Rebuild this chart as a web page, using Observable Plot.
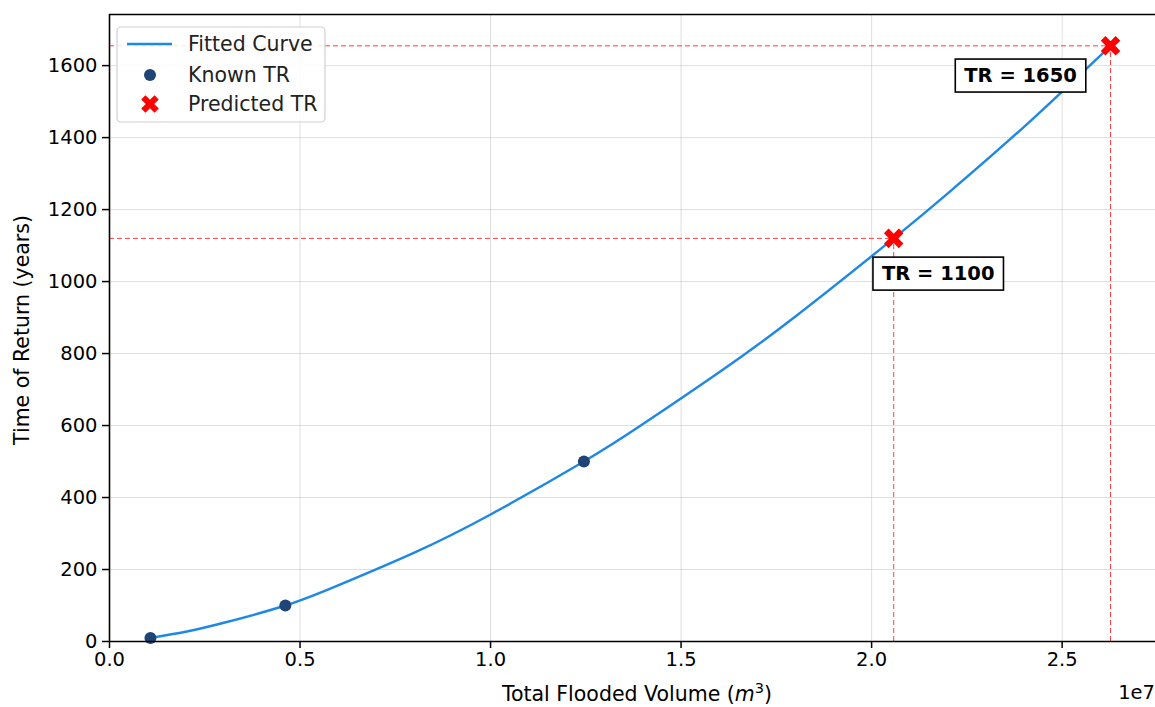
<!DOCTYPE html>
<html><head><meta charset="utf-8">
<script src="https://cdn.jsdelivr.net/npm/d3@7"></script>
<script src="https://cdn.jsdelivr.net/npm/@observablehq/plot@0.6"></script>
<style>
html,body{margin:0;padding:0;background:#fff;}
svg{font-family:"DejaVu Sans",sans-serif;}
</style>
</head><body><div id="chart"></div>
<script>
// ---- data ----
const knownVolume = [0.1075e7, 0.4615e7, 1.245e7];
const knownTR = [10, 100, 500];
const predictedVolume = [2.058e7, 2.627e7];
const predictedTR = [1120, 1655];
const predictedLabels = ["TR = 1100", "TR = 1650"];
const curveVolume = [0.1075e7, 0.2e7, 0.3e7, 0.4615e7, 0.6e7, 0.8e7, 1.0e7, 1.245e7, 1.4e7, 1.6e7, 1.8e7, 2.058e7, 2.2e7, 2.4e7, 2.627e7];
const curveTR = [10, 27, 52, 100, 156, 247, 353, 500, 604, 748, 903, 1120, 1245, 1430, 1655];
const xTicks = [0, 0.5e7, 1.0e7, 1.5e7, 2.0e7, 2.5e7];
const yTicks = [0, 200, 400, 600, 800, 1000, 1200, 1400, 1600];
const legendItems = ["Fitted Curve", "Known TR", "Predicted TR"];
const xLabelText = "Total Flooded Volume (";
const yLabelText = "Time of Return (years)";
const offsetText = "1e7";

// ---- tables ----
const curve = curveVolume.map((v, i) => ({v, tr: curveTR[i]}));
const known = knownVolume.map((v, i) => ({v, tr: knownTR[i]}));
const predicted = predictedVolume.map((v, i) => ({v, tr: predictedTR[i], label: predictedLabels[i]}));

const W = 1155, H = 707;
const xDomain = [0, 2.745e7], yDomain = [0, 1742];
const curveColor = "#1e88e5", knownColor = "#1f4476", predColor = "#ff0000";
const FS = 19.5;

// filled "X" marker (matplotlib style)
const xSymbol = {
  draw(ctx, size) {
    const r = Math.sqrt(size / Math.PI);
    const L = r * 1.05, h = r * 0.33;
    const pts = [[h,-L],[h,-h],[L,-h],[L,h],[h,h],[h,L],[-h,L],[-h,h],[-L,h],[-L,-h],[-h,-h],[-h,-L]]
      .map(([x, y]) => [(x - y) / Math.SQRT2, (x + y) / Math.SQRT2]);
    ctx.moveTo(pts[0][0], pts[0][1]);
    for (let i = 1; i < pts.length; i++) ctx.lineTo(pts[i][0], pts[i][1]);
    ctx.closePath();
  }
};

const dash = {stroke: predColor, strokeOpacity: 0.75, strokeWidth: 1, strokeDasharray: "5,3"};
const spine = {stroke: "#000", strokeWidth: 1.6};

const plot = Plot.plot({
  width: W, height: H,
  marginLeft: 109, marginRight: 0, marginTop: 14, marginBottom: 66,
  style: {fontFamily: '"DejaVu Sans", sans-serif', fontSize: FS + "px", color: "#000", background: "#fff", overflow: "visible"},
  x: {domain: xDomain},
  y: {domain: yDomain},
  marks: [
    Plot.gridX(xTicks, {stroke: "#b0b0b0", strokeOpacity: 0.4, strokeWidth: 1}),
    Plot.gridY(yTicks, {stroke: "#b0b0b0", strokeOpacity: 0.4, strokeWidth: 1}),
    Plot.ruleY(predicted, {y: "tr", x1: () => xDomain[0], x2: "v", ...dash}),
    Plot.ruleX(predicted, {x: "v", y1: () => yDomain[0], y2: "tr", ...dash}),
    Plot.line(curve, {x: "v", y: "tr", stroke: curveColor, strokeWidth: 2.4, curve: "natural"}),
    Plot.dot(known, {x: "v", y: "tr", r: 6, fill: knownColor, stroke: "none"}),
    Plot.dot(predicted, {x: "v", y: "tr", r: 10, symbol: xSymbol, fill: predColor, stroke: "none"}),
    Plot.text(predicted.filter((d, i) => i === 0), {x: "v", y: "tr", text: "label", dx: 44.5, dy: 35.5,
      fontWeight: "bold", fontSize: FS, fill: "#000"}),
    Plot.text(predicted.filter((d, i) => i === 1), {x: "v", y: "tr", text: "label", dx: -90, dy: 30,
      fontWeight: "bold", fontSize: FS, fill: "#000"}),
    Plot.axisX(xTicks, {tickSize: 7, tickPadding: 4, strokeWidth: 1.5, fontSize: FS, label: null,
      tickFormat: d => (d / 1e7).toFixed(1)}),
    Plot.axisY(yTicks, {tickSize: 7, tickPadding: 5, strokeWidth: 1.5, fontSize: FS, label: null,
      tickFormat: d => String(d)}),
    Plot.ruleY([yDomain[0]], spine),
    Plot.ruleY([yDomain[1]], spine),
    Plot.ruleX([xDomain[0]], spine)
  ]
});
document.getElementById("chart").appendChild(plot);

const svg = d3.select(plot);

// boxes behind annotation texts
svg.selectAll("text").filter(function () { return predictedLabels.includes(this.textContent); }).each(function () {
  const b = this.getBBox();
  const px = 9, py = 5;
  const parent = this.parentNode;
  const rect = document.createElementNS("http://www.w3.org/2000/svg", "rect");
  rect.setAttribute("x", b.x - px); rect.setAttribute("y", b.y - py);
  rect.setAttribute("width", b.width + 2 * px); rect.setAttribute("height", b.height + 2 * py);
  rect.setAttribute("fill", "#fff"); rect.setAttribute("stroke", "#000"); rect.setAttribute("stroke-width", 1.6);
  const tf = this.getAttribute("transform");
  if (tf) rect.setAttribute("transform", tf);
  parent.insertBefore(rect, this);
});

// x axis label with italic m and superscript 3
const xl = svg.append("text").attr("x", 637).attr("y", 701).attr("text-anchor", "middle")
  .attr("font-size", 20.5).attr("fill", "#000");
xl.append("tspan").text(xLabelText);
xl.append("tspan").attr("font-style", "italic").text("m");
xl.append("tspan").attr("font-size", 14.5).attr("dy", -8).text("3");
xl.append("tspan").attr("dy", 8).text(")");

// y axis label
svg.append("text").attr("transform", "translate(29,330) rotate(-90)").attr("text-anchor", "middle")
  .attr("font-size", 20.5).attr("fill", "#000").text(yLabelText);

// offset text
svg.append("text").attr("x", 1155).attr("y", 699).attr("text-anchor", "end")
  .attr("font-size", FS).attr("fill", "#000").text(offsetText);

// legend
const lg = svg.append("g").attr("text-anchor", "start");
lg.append("rect").attr("x", 117).attr("y", 27).attr("width", 208).attr("height", 95).attr("rx", 4)
  .attr("fill", "#fff").attr("fill-opacity", 0.85).attr("stroke", "#d0d0d0").attr("stroke-width", 1.2);
const rowY = [44, 75, 104];
legendItems.forEach((name, i) => {
  const y = rowY[i];
  if (i === 0) lg.append("line").attr("x1", 127).attr("x2", 172).attr("y1", y).attr("y2", y)
    .attr("stroke", curveColor).attr("stroke-width", 2.4);
  if (i === 1) lg.append("circle").attr("cx", 150).attr("cy", y).attr("r", 6).attr("fill", knownColor);
  if (i === 2) lg.append("path").attr("transform", `translate(150,${y})`)
    .attr("d", d3.symbol().type(xSymbol).size(Math.PI * 9 * 9)()).attr("fill", predColor);
  lg.append("text").attr("x", 188).attr("y", y).attr("dy", "0.35em").attr("font-size", 20.5)
    .attr("text-anchor", "start").attr("fill", "#222").text(name);
});
</script>
</body></html>
